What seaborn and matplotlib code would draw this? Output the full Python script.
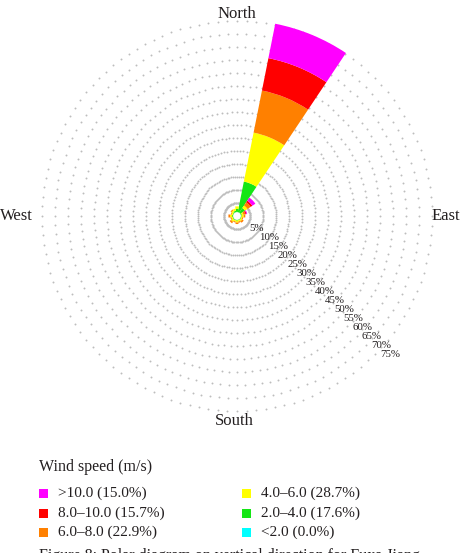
import numpy as np
import matplotlib
matplotlib.use("Agg")
import matplotlib.pyplot as plt
from matplotlib.patches import Rectangle
import seaborn as sns

sns.set_theme(style="white")
plt.rcParams['font.family'] = ['Liberation Serif', 'DejaVu Serif']

# ---------------- data ----------------
directions = ['N', 'NNE', 'NE', 'ENE', 'E', 'ESE', 'SE', 'SSE',
              'S', 'SSW', 'SW', 'WSW', 'W', 'WNW', 'NW', 'NNW']
# frequency (%) per direction for each speed bin
spd_lt2   = [0.0, 0.0, 0.0, 0.0, 0.0, 0.0, 0.0, 0.0, 0.0, 0.0, 0.0, 0.0, 0.0, 0.0, 0.0, 0.0]
spd_2_4   = [1.2, 12.0, 2.2, 0.4, 0.3, 0.2, 0.3, 0.2, 0.3, 0.2, 0.4, 0.2, 0.4, 0.2, 0.4, 0.6]
spd_4_6   = [1.0, 19.2, 1.2, 0.6, 0.8, 0.4, 0.6, 0.5, 0.7, 0.5, 0.8, 0.5, 0.8, 0.5, 0.7, 0.8]
spd_6_8   = [0.0, 16.5, 1.4, 0.8, 0.6, 0.4, 0.7, 0.5, 0.6, 0.4, 0.7, 0.4, 0.6, 0.3, 0.4, 0.0]
spd_8_10  = [0.0, 12.7, 0.8, 0.4, 0.0, 0.0, 0.0, 0.0, 0.0, 0.0, 0.0, 0.0, 0.0, 0.0, 0.0, 0.0]
spd_gt10  = [0.0, 13.5, 1.4, 0.3, 0.0, 0.0, 0.0, 0.0, 0.0, 0.0, 0.0, 0.0, 0.0, 0.0, 0.0, 0.0]

bin_labels = ['>10.0 (15.0%)', '8.0\u201310.0 (15.7%)', '6.0\u20138.0 (22.9%)',
              '4.0\u20136.0 (28.7%)', '2.0\u20134.0 (17.6%)', '<2.0 (0.0%)']
bin_colors = ['#FF00FF', '#FF0000', '#FF8000', '#FFFF00', '#14E614', '#00FFFF']
ring_values = [5, 10, 15, 20, 25, 30, 35, 40, 45, 50, 55, 60, 65, 70, 75]
cardinals = ['North', 'East', 'South', 'West']

# ---------------- layout ----------------
W, H = 461, 553
fig = plt.figure(figsize=(W / 100, H / 100), dpi=100)
cx, cy = 237, 216          # centre in px (from top)
rmax = 76.0
R = 197.6                  # px radius for rmax
ax = fig.add_axes([(cx - R) / W, (H - cy - R) / H, 2 * R / W, 2 * R / H],
                  projection='polar')
ax.set_theta_zero_location('N')
ax.set_theta_direction(-1)
ax.set_ylim(0, rmax)
ax.grid(False)
ax.set_xticks([])
ax.set_yticks([])
ax.spines['polar'].set_visible(False)
ax.set_facecolor('white')

txtc = '#231f20'

# dotted rings
th_ring = np.linspace(0, 2 * np.pi, 128, endpoint=False)
for rv in ring_values:
    ax.plot(th_ring, np.full_like(th_ring, rv), ls='none', marker='o',
            ms=1.4, mew=0, color='#bdbdbd', zorder=1)

# stacked bars
n = len(directions)
theta = np.arange(n) * 2 * np.pi / n
width = 2 * np.pi / n
hole = 1.5
stack = [spd_lt2, spd_2_4, spd_4_6, spd_6_8, spd_8_10, spd_gt10]
stack_colors = ['#00FFFF', '#14E614', '#FFFF00', '#FF8000', '#FF0000', '#FF00FF']
bottom = np.full(n, hole)
for vals, col in zip(stack, stack_colors):
    vals = np.asarray(vals)
    ax.bar(theta, vals, width=width, bottom=bottom, color=col,
           edgecolor='none', linewidth=0, align='center', zorder=2)
    bottom = bottom + vals

# ring labels
for rv in ring_values:
    ax.text(np.deg2rad(134), rv + 1.8, f"{rv}%", ha='left', va='center',
            fontsize=7.8, color=txtc, zorder=3)

# cardinal labels (figure px coords)
def fx(x):
    return x / W

def fy(y):
    return 1 - y / H

fig.text(fx(237), fy(14), cardinals[0], ha='center', va='center', fontsize=12, color=txtc)
fig.text(fx(432), fy(216), cardinals[1], ha='left', va='center', fontsize=12, color=txtc)
fig.text(fx(234), fy(421), cardinals[2], ha='center', va='center', fontsize=12, color=txtc)
fig.text(fx(0), fy(216), cardinals[3], ha='left', va='center', fontsize=12, color=txtc)

# legend
fig.text(fx(39), fy(467), 'Wind speed (m/s)', ha='left', va='center', fontsize=11.5, color=txtc)
col_x = [39, 242]
row_y = [493, 513, 532]
for i, (lab, col) in enumerate(zip(bin_labels, bin_colors)):
    c, r = divmod(i, 3)
    x0, y0 = col_x[c], row_y[r]
    fig.add_artist(Rectangle((fx(x0), fy(y0 + 4.5)), 9 / W, 9 / H,
                             transform=fig.transFigure, color=col, lw=0))
    fig.text(fx(x0 + 19), fy(y0), lab, ha='left', va='center', fontsize=11, color=txtc)

# caption (cut off at bottom as in the source)
fig.text(fx(231), fy(547.5), 'Figure 8: Polar diagram on vertical direction for Fuxa Jiang.',
         ha='center', va='top', fontsize=11.5, color=txtc)

fig.savefig('out.png', dpi=100, facecolor='white')
